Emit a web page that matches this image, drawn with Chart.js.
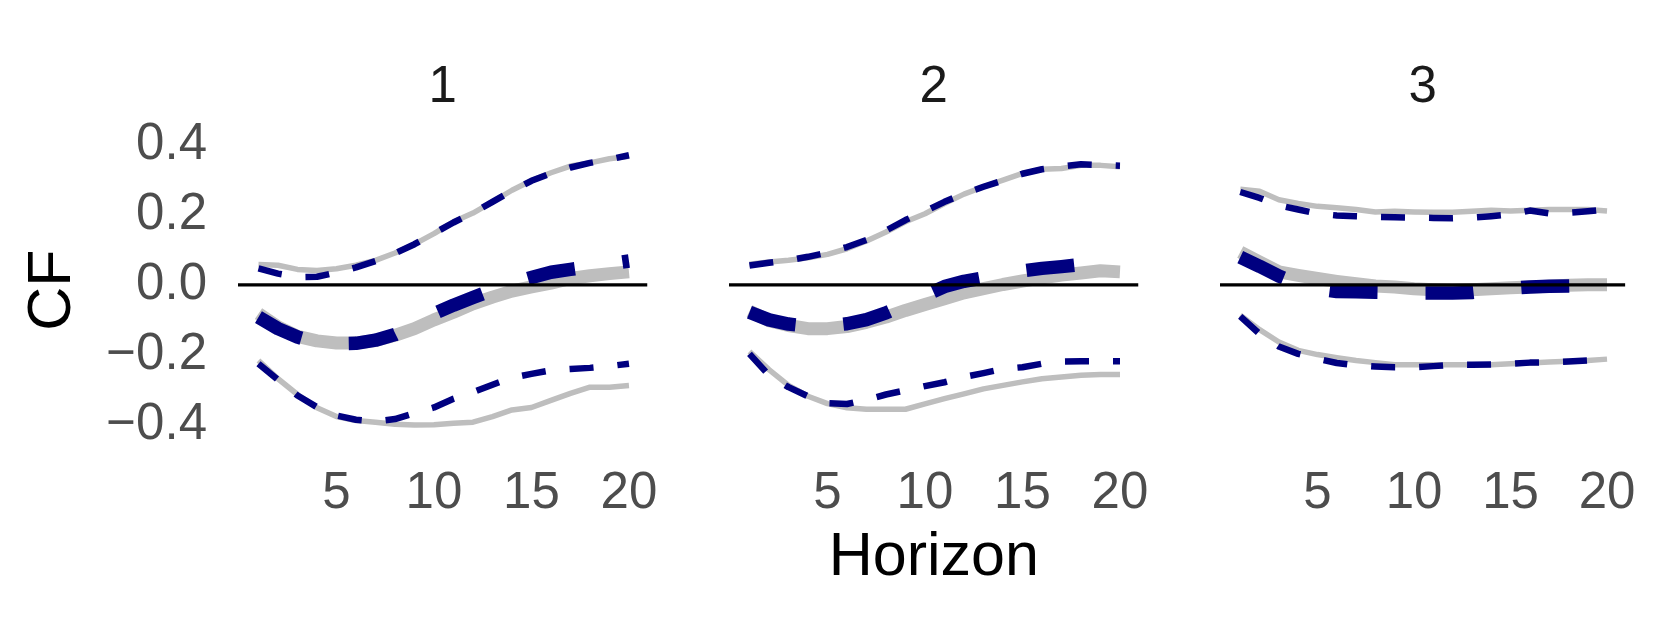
<!DOCTYPE html>
<html>
<head>
<meta charset="utf-8">
<script src="https://cdn.jsdelivr.net/npm/chart.js@4/dist/chart.umd.min.js"></script>
<style>
  html, body { margin: 0; padding: 0; background: #fff; }
  #wrap { position: relative; width: 1661px; height: 623px; }
  #wrap canvas { position: absolute; left: 0; top: 0; }
</style>
</head>
<body>
<div id="wrap">
  <canvas id="p1" width="1661" height="623"></canvas>
  <canvas id="p2" width="1661" height="623"></canvas>
  <canvas id="p3" width="1661" height="623"></canvas>
</div>
<script>
// facet labels and x values
const panels = ["1", "2", "3"];
const horizon = [1, 2, 3, 4, 5, 6, 7, 8, 9, 10, 11, 12, 13, 14, 15, 16, 17, 18, 19, 20];
const xTicks = [5, 10, 15, 20];
const yTicks = [-0.4, -0.2, 0, 0.2, 0.4];
const refLine = 0;

// grey = solid estimates, navy = dashed estimates (middle + lower/upper bands)
const greyMid = [
  [-0.082, -0.12, -0.147, -0.16, -0.166, -0.166, -0.159, -0.144, -0.125, -0.10, -0.078, -0.054, -0.035, -0.018, -0.006, 0.005, 0.018, 0.026, 0.032, 0.037],
  [-0.075, -0.102, -0.116, -0.125, -0.125, -0.119, -0.107, -0.092, -0.073, -0.056, -0.04, -0.023, -0.011, 0.001, 0.011, 0.02, 0.028, 0.034, 0.04, 0.037],
  [0.094, 0.065, 0.037, 0.027, 0.018, 0.01, 0.003, -0.003, -0.006, -0.011, -0.014, -0.016, -0.014, -0.011, -0.008, -0.006, -0.004, -0.001, 0, 0]
];
const greyUp = [
  [0.058, 0.056, 0.044, 0.041, 0.046, 0.056, 0.07, 0.091, 0.116, 0.146, 0.18, 0.205, 0.237, 0.27, 0.298, 0.32, 0.339, 0.348, 0.36, 0.367],
  [0.059, 0.065, 0.07, 0.077, 0.087, 0.103, 0.125, 0.151, 0.18, 0.203, 0.232, 0.259, 0.28, 0.299, 0.318, 0.33, 0.332, 0.341, 0.341, 0.337],
  [0.273, 0.267, 0.243, 0.232, 0.224, 0.22, 0.215, 0.208, 0.21, 0.208, 0.207, 0.207, 0.21, 0.213, 0.211, 0.213, 0.215, 0.215, 0.215, 0.211]
];
const greyLow = [
  [-0.216, -0.268, -0.313, -0.351, -0.376, -0.387, -0.392, -0.398, -0.4, -0.399, -0.395, -0.392, -0.376, -0.357, -0.35, -0.33, -0.31, -0.292, -0.292, -0.287],
  [-0.19, -0.242, -0.287, -0.318, -0.339, -0.351, -0.355, -0.355, -0.355, -0.34, -0.325, -0.311, -0.297, -0.287, -0.277, -0.268, -0.263, -0.258, -0.256, -0.256],
  [-0.087, -0.128, -0.163, -0.187, -0.199, -0.208, -0.216, -0.222, -0.228, -0.228, -0.228, -0.228, -0.228, -0.228, -0.225, -0.223, -0.22, -0.218, -0.216, -0.212]
];
const navyMid = [
  [-0.092, -0.125, -0.149, -0.165, -0.168, -0.167, -0.158, -0.142, -0.115, -0.082, -0.058, -0.036, -0.015, 0.005, 0.021, 0.036, 0.044, 0.052, 0.06, 0.068],
  [-0.078, -0.1, -0.112, -0.118, -0.117, -0.111, -0.099, -0.08, -0.055, -0.03, -0.005, 0.01, 0.02, 0.032, 0.04, 0.047, 0.052, 0.058, 0.06, 0.062],
  [0.079, 0.053, 0.025, 0.003, -0.012, -0.019, -0.02, -0.021, -0.022, -0.023, -0.023, -0.023, -0.022, -0.016, -0.01, -0.006, -0.004, -0.003, -0.002, 0]
];
const navyUp = [
  [0.047, 0.032, 0.022, 0.023, 0.035, 0.05, 0.068, 0.09, 0.116, 0.147, 0.178, 0.205, 0.237, 0.268, 0.297, 0.318, 0.335, 0.348, 0.358, 0.37],
  [0.055, 0.063, 0.07, 0.08, 0.092, 0.108, 0.128, 0.155, 0.185, 0.21, 0.237, 0.26, 0.28, 0.298, 0.317, 0.33, 0.338, 0.344, 0.342, 0.34],
  [0.265, 0.248, 0.227, 0.215, 0.203, 0.198, 0.196, 0.194, 0.193, 0.192, 0.191, 0.19, 0.192, 0.196, 0.201, 0.212, 0.204, 0.206, 0.21, 0.215]
];
const navyLow = [
  [-0.225, -0.271, -0.316, -0.349, -0.373, -0.385, -0.39, -0.383, -0.366, -0.35, -0.325, -0.306, -0.285, -0.265, -0.254, -0.244, -0.24, -0.237, -0.232, -0.225],
  [-0.197, -0.258, -0.292, -0.318, -0.338, -0.34, -0.328, -0.313, -0.301, -0.289, -0.278, -0.263, -0.252, -0.24, -0.235, -0.225, -0.219, -0.218, -0.218, -0.218],
  [-0.09, -0.14, -0.176, -0.197, -0.211, -0.223, -0.23, -0.233, -0.235, -0.235, -0.232, -0.228, -0.228, -0.227, -0.225, -0.222, -0.221, -0.219, -0.216, -0.212]
];

const W = 1661;
const panelLeft = [238, 729, 1220];
const panelWidth = 409.5;
const xMin = -0.05, xMax = 20.95;

Chart.defaults.font.family = "'Liberation Sans', Arial, sans-serif";

function pts(arr) {
  return horizon.map((h, k) => ({ x: h, y: arr[k] }));
}

function lineSet(arr, color, width, dash, order) {
  return {
    data: pts(arr),
    borderColor: color,
    borderWidth: width,
    borderDash: dash,
    borderCapStyle: "butt",
    borderJoinStyle: "round",
    pointRadius: 0,
    tension: 0,
    fill: false,
    order: order
  };
}

function makePanel(i) {
  const ctx = document.getElementById("p" + (i + 1)).getContext("2d");
  const left = panelLeft[i];
  const right = left + panelWidth;

  const datasets = [
    {
      data: [{ x: xMin, y: refLine }, { x: xMax, y: refLine }],
      borderColor: "#000000",
      borderWidth: 3.3,
      pointRadius: 0,
      borderCapStyle: "butt",
      order: 0
    },
    lineSet(navyMid[i], "#000080", 13.5, [48, 48], 1),
    lineSet(navyUp[i], "#000080", 6.5, [24, 24], 1),
    lineSet(navyLow[i], "#000080", 6.5, [24, 24], 1),
    lineSet(greyMid[i], "#BEBEBE", 13, [], 2),
    lineSet(greyUp[i], "#BEBEBE", 5.5, [], 2),
    lineSet(greyLow[i], "#BEBEBE", 5.5, [], 2)
  ];

  new Chart(ctx, {
    type: "line",
    data: { datasets: datasets },
    options: {
      responsive: false,
      animation: false,
      devicePixelRatio: 1,
      layout: {
        padding: { left: i === 0 ? 0 : left, right: W - right, top: 0, bottom: 0 }
      },
      plugins: {
        legend: { display: false },
        tooltip: { enabled: false },
        title: {
          display: true,
          text: panels[i],
          fullSize: false,
          color: "#1A1A1A",
          font: { size: 51, weight: "normal" },
          padding: { top: 57, bottom: 23 }
        }
      },
      scales: {
        x: {
          type: "linear",
          min: xMin,
          max: xMax,
          grid: { display: false, drawTicks: false },
          border: { display: false },
          afterFit: s => { s.height = 184; },
          afterBuildTicks: s => { s.ticks = xTicks.map(v => ({ value: v })); },
          ticks: {
            color: "#4D4D4D",
            font: { size: 51 },
            padding: 24,
            maxRotation: 0,
            autoSkip: false,
            callback: v => String(v)
          },
          title: {
            display: i === 1,
            text: "Horizon",
            color: "#000000",
            font: { size: 61 },
            padding: { top: 0, bottom: 28 }
          }
        },
        y: {
          display: i === 0,
          min: -0.44,
          max: 0.41,
          grid: { display: false, drawTicks: false },
          border: { display: false },
          afterFit: s => { s.width = i === 0 ? left : 0; },
          afterBuildTicks: s => { s.ticks = yTicks.map(v => ({ value: v })); },
          ticks: {
            color: "#4D4D4D",
            font: { size: 51 },
            padding: 31,
            autoSkip: false,
            callback: v => v === 0 ? "0.0" : (v < 0 ? "\u2212" : "") + Math.abs(v).toFixed(1)
          },
          title: {
            display: true,
            text: "CF",
            color: "#000000",
            font: { size: 61 },
            padding: { top: 17, bottom: 0 }
          }
        }
      }
    }
  });
}

panels.forEach((p, i) => makePanel(i));
</script>
</body>
</html>
